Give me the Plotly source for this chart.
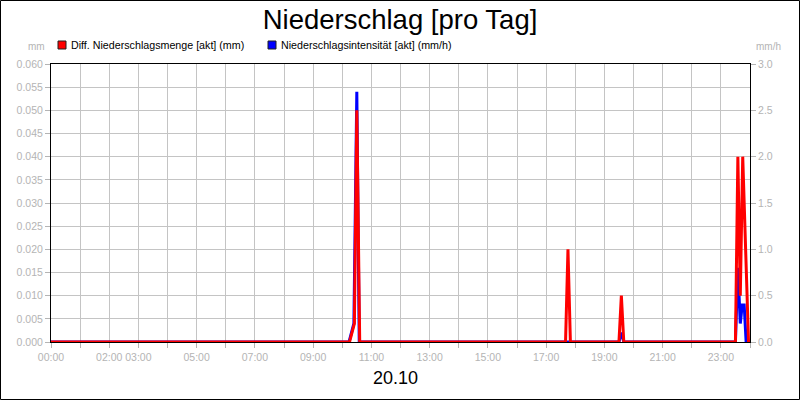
import plotly.graph_objects as go

# region Data
hour_ticks = [0, 2, 3, 5, 7, 9, 11, 13, 15, 17, 19, 21, 23]
hour_labels = ["00:00", "02:00", "03:00", "05:00", "07:00", "09:00", "11:00",
               "13:00", "15:00", "17:00", "19:00", "21:00", "23:00"]

# Diff. Niederschlagsmenge [akt] (mm)
menge_times = ["00:00", "10:15", "10:25", "10:30", "10:36",
               "17:40", "17:45", "17:50",
               "19:30", "19:35", "19:40",
               "23:30", "23:35", "23:40", "23:45", "23:57", "24:00"]
menge_values = [0.0, 0.0, 0.004, 0.05, 0.0,
                0.0, 0.02, 0.0,
                0.0, 0.01, 0.0,
                0.0, 0.04, 0.01, 0.04, 0.0, 0.0]

# Niederschlagsintensität [akt] (mm/h)
intens_times = ["00:00", "10:14", "10:24", "10:30", "10:35",
                "19:30", "19:35", "19:40",
                "23:30", "23:35", "23:40", "23:44", "23:48", "23:52", "24:00"]
intens_values = [0.0, 0.0, 0.2, 2.7, 0.0,
                 0.0, 0.1, 0.0,
                 0.0, 0.8, 0.2, 0.4, 0.4, 0.0, 0.0]
# endregion


def to_hours(t):
    h, m = t.split(":")
    return int(h) + int(m) / 60.0


# plot area in pixels: left 51, right 750, top 64, bottom 342
L, R, T, B = 51, 750, 64, 342


def px(x):
    return (x - L) / (R - L)


def py(y):
    return (B - y) / (B - T)


FONT = "Liberation Sans, Arial, sans-serif"
GRAY = "#b4b4b4"
GRID = "#c4c4c4"
TICKSIZE = 10.5

fig = go.Figure()

# blue on the main (right) axis, red on the overlay (left) axis so red is on top
fig.add_trace(go.Scatter(
    x=[to_hours(t) for t in intens_times], y=intens_values,
    mode="lines", line=dict(color="#0000ff", width=3),
    yaxis="y", name="Niederschlagsintensität [akt] (mm/h)", showlegend=False,
))
fig.add_trace(go.Scatter(
    x=[to_hours(t) for t in menge_times], y=menge_values,
    mode="lines", line=dict(color="#ff0000", width=3),
    yaxis="y2", name="Diff. Niederschlagsmenge [akt] (mm)", showlegend=False,
))

fig.update_layout(
    width=800, height=400,
    margin=dict(l=L, r=800 - R, t=T, b=400 - B, autoexpand=False),
    paper_bgcolor="white", plot_bgcolor="white",
    font=dict(family=FONT, size=11, color=GRAY),
    showlegend=False,
    title=dict(text="Niederschlag [pro Tag]", x=0.5, xanchor="center",
               y=1 - 19 / 400, yanchor="middle",
               font=dict(family=FONT, size=27.5, color="black")),
    xaxis=dict(
        range=[0, 24], tickmode="array", tickvals=hour_ticks, ticktext=hour_labels,
        tickangle=0, automargin=False,
        showgrid=True, gridcolor=GRID, gridwidth=1,
        ticks="outside", ticklen=5, tickcolor=GRAY,
        minor=dict(dtick=1, tick0=0, showgrid=True, gridcolor=GRID,
                   ticks="outside", ticklen=5, tickcolor=GRAY),
        showline=True, linecolor="black", linewidth=1, mirror=True,
        zeroline=False, tickfont=dict(size=TICKSIZE, color=GRAY),
        fixedrange=True,
    ),
    yaxis=dict(
        side="right", range=[0, 3], dtick=0.5, tickformat=".1f", automargin=False,
        showgrid=True, gridcolor=GRID, gridwidth=1,
        minor=dict(dtick=0.25, showgrid=True, gridcolor=GRID),
        ticks="outside", ticklen=5, tickcolor=GRAY,
        showline=True, linecolor="black", linewidth=1,
        zeroline=False, tickfont=dict(size=TICKSIZE, color=GRAY),
    ),
    yaxis2=dict(
        side="left", overlaying="y", range=[0, 0.06], dtick=0.005, tickformat=".3f",
        automargin=False,
        showgrid=False, ticks="outside", ticklen=5, tickcolor=GRAY,
        showline=True, linecolor="black", linewidth=1,
        zeroline=False, tickfont=dict(size=TICKSIZE, color=GRAY),
    ),
)

# date label under the axis
fig.add_annotation(text="20.10", xref="paper", yref="paper", x=px(395), y=py(378),
                   xanchor="center", yanchor="middle", showarrow=False,
                   font=dict(family=FONT, size=18, color="black"))

# axis units
fig.add_annotation(text="mm", xref="paper", yref="paper", x=px(47), y=py(47),
                   xanchor="right", yanchor="middle", showarrow=False,
                   font=dict(size=10, color=GRAY))
fig.add_annotation(text="mm/h", xref="paper", yref="paper", x=px(754), y=py(47),
                   xanchor="left", yanchor="middle", showarrow=False,
                   font=dict(size=10, color=GRAY))

# legend
legend_items = [("Diff. Niederschlagsmenge [akt] (mm)", "#ff0000", 58),
                ("Niederschlagsintensität [akt] (mm/h)", "#0000ff", 268)]
for label, color, x0 in legend_items:
    fig.add_shape(type="rect", xref="paper", yref="paper",
                  x0=px(x0), x1=px(x0 + 8), y0=py(49), y1=py(41),
                  fillcolor=color, line=dict(color="#202020", width=1))
    fig.add_annotation(text=label, xref="paper", yref="paper",
                       x=px(x0 + 11), y=py(45), xanchor="left", yanchor="middle",
                       showarrow=False, font=dict(size=10.7, color="black"))

# outer frame
fig.add_shape(type="rect", xref="paper", yref="paper",
              x0=px(0.5), x1=px(799.5), y0=py(399.5), y1=py(0.5),
              line=dict(color="black", width=1), fillcolor="rgba(0,0,0,0)")

fig.write_html("out.html", config={"displayModeBar": False},
               post_script="document.body.style.margin='0';")
